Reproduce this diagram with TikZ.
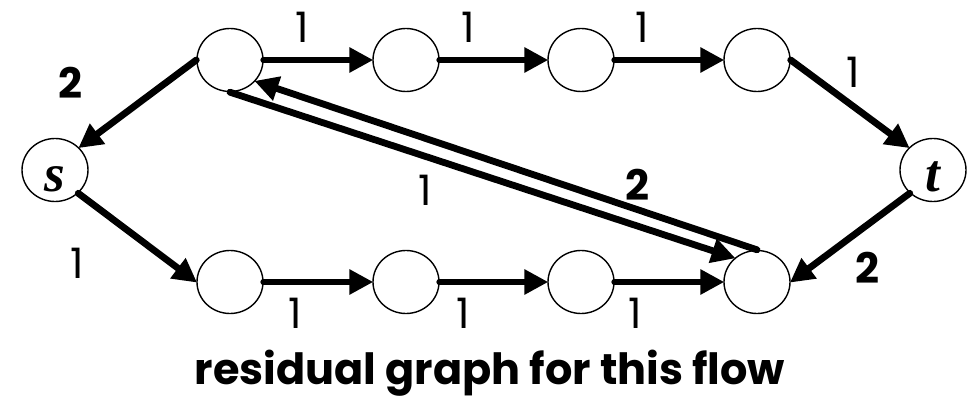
\documentclass[tikz,border=0pt]{standalone}
\usepackage{fontspec}
\setmainfont{Poppins}
\newfontfamily\mathser{Liberation Serif}
\usetikzlibrary{arrows.meta,shapes.geometric}
\tikzset{
  vtx/.style={draw, ellipse, line width=1.4pt, minimum width=66pt, minimum height=63pt, inner sep=0pt},
  edge/.style={line width=6.8pt, line cap=round, -{Triangle[length=24pt,width=24pt]}, shorten >=-1pt},
  lbl/.style={font=\fontsize{42}{42}\selectfont, inner sep=0pt},
  blbl/.style={font=\fontsize{42}{42}\selectfont\bfseries, inner sep=0pt},
  vname/.style={font=\fontsize{53}{53}\selectfont\mathser\bfseries\itshape},
}
\begin{document}
\begin{tikzpicture}[x=1pt,y=-1pt]
\useasboundingbox (0,0) rectangle (978,401);
\node[vtx, vname] (s) at (55,170) {\raisebox{-22pt}[0pt][0pt]{s}};
\node[vtx, vname] (t) at (933,170) {\raisebox{-22pt}[0pt][0pt]{t}};
\node[vtx] (a1) at (230,60) {};
\node[vtx] (a2) at (406,60) {};
\node[vtx] (a3) at (581,60) {};
\node[vtx] (a4) at (757,60) {};
\node[vtx] (b1) at (230,282) {};
\node[vtx] (b2) at (406,282) {};
\node[vtx] (b3) at (581,282) {};
\node[vtx] (b4) at (757,282) {};
% edges
\draw[edge] (a1.west) -- (s.43);
\draw[edge] (s.-45) -- (b1.west);
\draw[edge] (a1.east) -- (a2.west);
\draw[edge] (a2.east) -- (a3.west);
\draw[edge] (a3.east) -- (a4.west);
\draw[edge] (a4.east) -- (t.137);
\draw[edge] (t.-135) -- (b4.east);
\draw[edge] (b1.east) -- (b2.west);
\draw[edge] (b2.east) -- (b3.west);
\draw[edge] (b3.east) -- (b4.west);
\draw[edge] (b4.north) -- (a1.-40);
\draw[edge] (a1.south) -- (b4.133);
% labels
\node[blbl] (l1) at (70,83) {2};
\node[lbl] (l2) at (302,27) {1};
\node[lbl] (l3) at (468,27) {1};
\node[lbl] (l4) at (642,27) {1};
\node[lbl] (l5) at (853,72) {1};
\node[lbl] (l6) at (77,263) {1};
\node[lbl] (l7) at (295,313) {1};
\node[lbl] (l8) at (463,313) {1};
\node[lbl] (l9) at (635,313) {1};
\node[blbl] (l10) at (867,268) {2};
\node[lbl] (l11) at (425,190) {1};
\node[blbl] (l12) at (637,185) {2};
\node[font=\fontsize{43}{43}\selectfont\bfseries, inner sep=0pt, anchor=base] (cap) at (490,384) {residual graph for this flow};
\end{tikzpicture}
\end{document}
